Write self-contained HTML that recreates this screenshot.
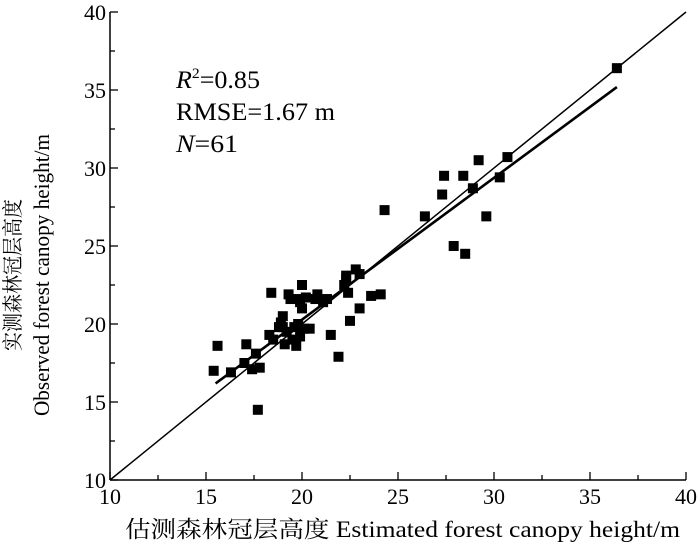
<!DOCTYPE html>
<html><head><meta charset="utf-8">
<style>
body{margin:0;background:#fff;}
svg{display:block;}
text{font-family:"Liberation Serif","Noto Serif CJK SC",serif;fill:#000;}
</style></head>
<body>
<svg id="chart" width="700" height="552" viewBox="0 0 700 552" xmlns="http://www.w3.org/2000/svg">
<g id="axes"></g>
<g id="lines"></g>
<g id="points"></g>
<g font-size="25">
<text x="176" y="88" textLength="84" lengthAdjust="spacingAndGlyphs"><tspan font-style="italic">R</tspan><tspan font-size="15" dy="-10">2</tspan><tspan dy="10">=0.85</tspan></text>
<text x="176" y="120" textLength="159" lengthAdjust="spacingAndGlyphs">RMSE=1.67 m</text>
<text x="176" y="152" textLength="62" lengthAdjust="spacingAndGlyphs"><tspan font-style="italic">N</tspan>=61</text>
</g>
<text x="125" y="537" textLength="555" lengthAdjust="spacingAndGlyphs" font-size="23">估测森林冠层高度 Estimated forest canopy height/m</text>
<g transform="translate(0,275) rotate(-90)">
<text x="0" y="20" text-anchor="middle" font-size="21" textLength="152" lengthAdjust="spacingAndGlyphs">实测森林冠层高度</text>
<text x="0" y="49" text-anchor="middle" font-size="22" textLength="282" lengthAdjust="spacingAndGlyphs">Observed forest canopy height/m</text>
</g>
</svg>
<script>
const xTicks=[10,15,20,25,30,35,40];
const yTicks=[10,15,20,25,30,35,40];
const obsX=[15.4,15.6,16.3,17.0,17.1,17.4,17.6,17.7,17.8,18.3,18.4,18.5,18.9,19.0,19.1,19.2,19.3,19.4,19.5,19.6,19.7,19.8,19.9,19.9,20.0,20.0,19.9,20.1,20.4,20.7,20.8,21.3,21.5,21.9,22.2,22.3,22.3,22.4,22.5,22.8,23.0,23.0,23.6,24.1,24.3,26.4,27.3,27.4,27.9,28.4,28.5,28.9,29.2,29.6,30.3,30.7,36.4,19.0,20.2,18.8,21.1];
const obsY=[17.0,18.6,16.9,17.5,18.7,17.1,18.1,14.5,17.2,19.3,22.0,19.0,20.1,20.5,18.7,19.5,21.9,21.6,19.0,19.8,18.6,20.0,21.6,21.4,22.5,21.0,19.2,19.7,19.7,21.6,21.9,21.6,19.3,17.9,22.5,22.9,23.1,22.0,20.2,23.5,21.0,23.2,21.8,21.9,27.3,26.9,28.3,29.5,25.0,29.5,24.5,28.7,30.5,26.9,29.4,30.7,36.4,19.8,21.7,19.8,21.4];
const fitSlope=0.909, fitIntercept=2.1, fitRange=[15.5,36.4];
const oneToOne=[10,40];

const NS="http://www.w3.org/2000/svg";
const X0=110,X1=686,Y0=480,Y1=12,MIN=10,MAX=40;
function sx(v){return X0+(v-MIN)/(MAX-MIN)*(X1-X0);}
function sy(v){return Y0-(v-MIN)/(MAX-MIN)*(Y0-Y1);}
function mk(tag,attrs,parent){const e=document.createElementNS(NS,tag);for(const k in attrs)e.setAttribute(k,attrs[k]);parent.appendChild(e);return e;}
const axes=document.getElementById('axes');
let xa=mk('line',{x1:X0,y1:Y0,x2:X1,y2:Y0,stroke:'#000','stroke-width':1.5},axes);


let ya=mk('line',{x1:X0,y1:Y0,x2:X0,y2:Y1,stroke:'#000','stroke-width':1.5},axes);


for(let i=0;i<xTicks.length;i++){
  const v=xTicks[i];
  mk('line',{x1:sx(v),y1:Y0,x2:sx(v),y2:Y0-8,stroke:'#000','stroke-width':1.3},axes);
  if(i<xTicks.length-1)mk('line',{x1:sx(v+2.5),y1:Y0,x2:sx(v+2.5),y2:Y0-5,stroke:'#000','stroke-width':1.3},axes);
  const t=mk('text',{x:sx(v),y:Y0+24,'text-anchor':'middle','font-size':22},axes);
  t.textContent=v;
  
  
}
for(let i=0;i<yTicks.length;i++){
  const v=yTicks[i];
  mk('line',{x1:X0,y1:sy(v),x2:X0+8,y2:sy(v),stroke:'#000','stroke-width':1.3},axes);
  if(i<yTicks.length-1)mk('line',{x1:X0,y1:sy(v+2.5),x2:X0+5,y2:sy(v+2.5),stroke:'#000','stroke-width':1.3},axes);
  const t=mk('text',{x:X0-4,y:sy(v)+8,'text-anchor':'end','font-size':22},axes);
  t.textContent=v;
  
  
}
const lines=document.getElementById('lines');
let l1=mk('line',{x1:sx(oneToOne[0]),y1:sy(oneToOne[0]),x2:sx(oneToOne[1]),y2:sy(oneToOne[1]),stroke:'#000','stroke-width':1.5},lines);


let l2=mk('line',{x1:sx(fitRange[0]),y1:sy(fitSlope*fitRange[0]+fitIntercept),x2:sx(fitRange[1]),y2:sy(fitSlope*fitRange[1]+fitIntercept),stroke:'#000','stroke-width':2.6},lines);


const pts=document.getElementById('points');
for(let i=0;i<obsX.length;i++){
  const r=mk('rect',{x:sx(obsX[i])-5,y:sy(obsY[i])-5,width:10,height:10,fill:'#000'},pts);
  
  
}
</script>
</body></html>
